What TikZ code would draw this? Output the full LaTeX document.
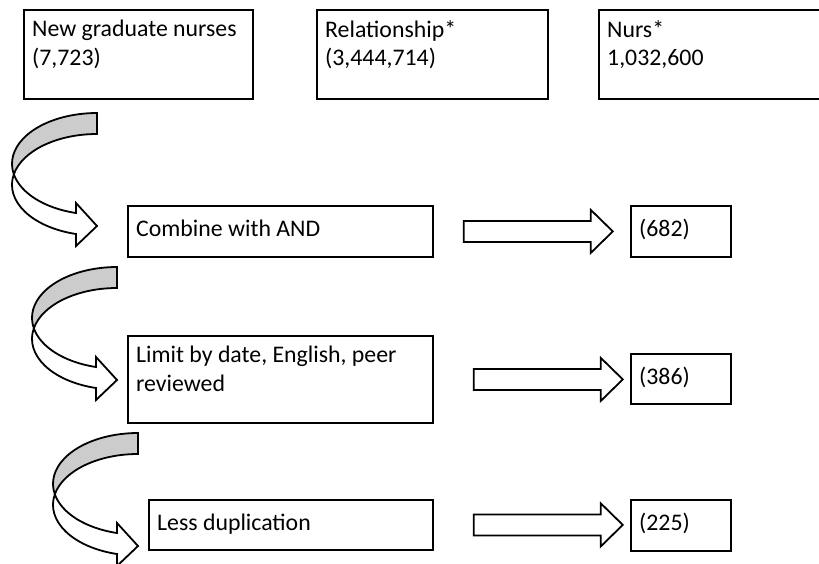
\documentclass[tikz,border=0pt]{standalone}
\usepackage{fontspec}
\setmainfont{Carlito}
\begin{document}
\begin{tikzpicture}[x=1pt, y=1pt,
  box/.style={draw, line width=1.8pt, inner sep=0pt, anchor=north west},
  boxtext/.style={anchor=north west, inner sep=0pt, align=left,
    font=\fontsize{23.8}{28.5}\selectfont, execute at begin node=\strut},
  blockline/.style={draw, fill=white, line width=1.8pt},
  bandgray/.style={draw, fill=black!20, line width=1.8pt}]
\useasboundingbox (0,0) rectangle (819,-563);
\clip (0,0) rectangle (819,-563);

% Curved arrow, top right corner at (#1,#2)
\def\curvedarrow#1#2{%
  \begin{scope}[shift={(#1,#2)}]
    \draw[blockline] (-83.16,-61.3) arc[start angle=191.93, end angle=255.7, x radius=85pt, y radius=50.8pt]
      -- (-21,-90) -- (0,-113) -- (-21,-133) -- (-21,-121)
      arc[start angle=255.7, end angle=168.07, x radius=85pt, y radius=50.8pt] -- cycle;
    \draw[bandgray] (0,0) arc[start angle=90, end angle=191.93, x radius=85pt, y radius=50.8pt]
      arc[start angle=168.07, end angle=90, x radius=85pt, y radius=50.8pt] -- cycle;
  \end{scope}}
% Straight block arrow, tail centre at #1
\def\blockarrow#1{%
  \draw[blockline, shift={(#1)}] (0,10.5) -- (127,10.5) -- (127,21.5) -- (149,0)
    -- (127,-21.5) -- (127,-10.5) -- (0,-10.5) -- cycle;}

% Search terms
\node[box, minimum width=229pt, minimum height=89pt] (nurses) at (23,-9) {};
\node[boxtext] (nursestext) at ([shift={(9,-11)}]nurses.north west) {New graduate nurses\\(7,723)};
\node[box, minimum width=231pt, minimum height=89pt] (relation) at (316,-9) {};
\node[boxtext] (relationtext) at ([shift={(9,-11)}]relation.north west) {Relationship*\\(3,444,714)};
\node[box, minimum width=240pt, minimum height=89pt] (nurs) at (598,-9) {};
\node[boxtext] (nurstext) at ([shift={(9,-11)}]nurs.north west) {Nurs*\\1,032,600};

% Steps
\node[box, minimum width=305pt, minimum height=51pt] (combine) at (127,-205) {};
\node[boxtext] (combinetext) at ([shift={(9,-11)}]combine.north west) {Combine with AND};
\node[box, minimum width=305pt, minimum height=87pt] (limit) at (127,-335) {};
\node[boxtext] (limittext) at ([shift={(9,-11)}]limit.north west) {Limit by date, English, peer\\reviewed};
\node[box, minimum width=284pt, minimum height=50pt] (less) at (148,-499) {};
\node[boxtext] (lesstext) at ([shift={(9,-11)}]less.north west) {Less duplication};

% Results
\node[box, minimum width=100pt, minimum height=51pt] (res682) at (630,-205) {};
\node[boxtext] (res682text) at ([shift={(9,-11)}]res682.north west) {(682)};
\node[box, minimum width=100pt, minimum height=50pt] (res386) at (630,-353) {};
\node[boxtext] (res386text) at ([shift={(9,-11)}]res386.north west) {(386)};
\node[box, minimum width=100pt, minimum height=51pt] (res225) at (630,-499) {};
\node[boxtext] (res225text) at ([shift={(9,-11)}]res225.north west) {(225)};

% Arrows
\curvedarrow{97}{-113}
\curvedarrow{117}{-267}
\curvedarrow{138}{-433}
\blockarrow{[xshift=30pt]combine.east}
\blockarrow{[xshift=40pt]limit.east}
\blockarrow{[xshift=40pt]less.east}
\end{tikzpicture}
\end{document}
